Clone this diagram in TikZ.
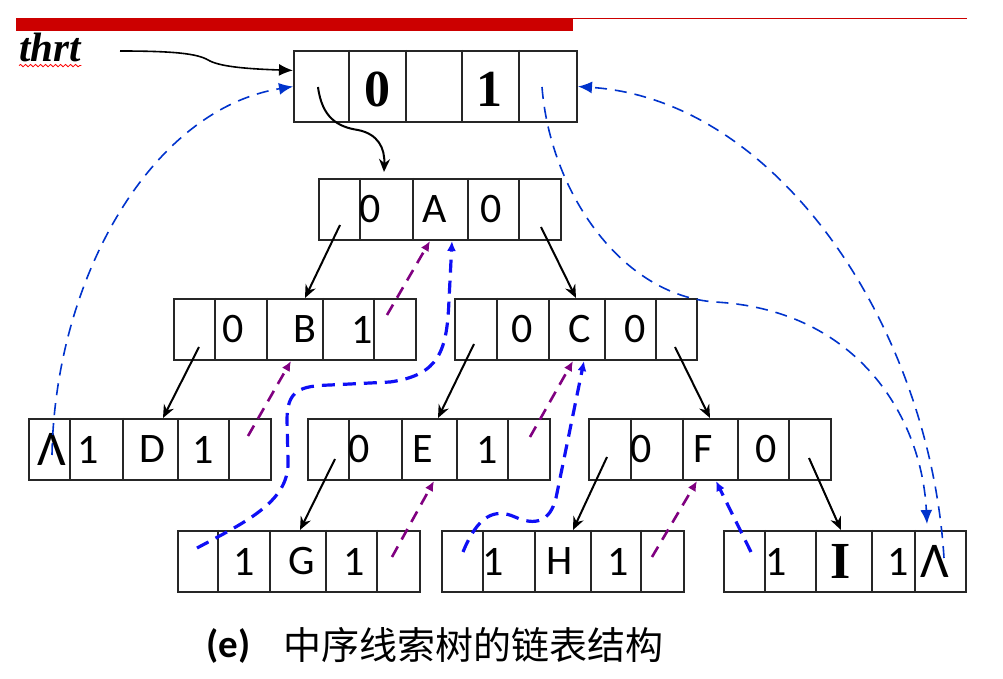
\documentclass[tikz,border=0pt]{standalone}
\usepackage{fontspec}
\setmainfont{Liberation Serif}
\setsansfont{Carlito}
\newfontfamily\cjk{Noto Sans CJK SC}
\usepackage{tikz}
\usetikzlibrary{arrows.meta,calc,decorations.pathmorphing}

\definecolor{hdrred}{RGB}{204,0,0}
\definecolor{headblue}{RGB}{0,51,204}
\definecolor{thrblue}{RGB}{15,15,245}
\definecolor{thrpurple}{RGB}{128,0,128}

\begin{document}
\begin{tikzpicture}[
  x=0.5pt, y=-0.5pt,
  record/.style={draw=black!85, line width=1pt, anchor=north west, inner sep=0pt,
                 minimum width=121pt, minimum height=30.5pt},
  divider/.style={draw=black!85, line width=1pt},
  val/.style={inner sep=0pt, font=\sffamily\fontsize{21}{24}\selectfont},
  nilval/.style={inner sep=0pt, font=\sffamily\fontsize{25}{28}\selectfont},
  boldval/.style={inner sep=0pt, font=\rmfamily\bfseries\fontsize{26}{28}\selectfont},
  tree/.style={-{Stealth[length=6.5pt,width=5.5pt]}, draw, line width=1pt},
  lthread/.style={-{Latex[length=5pt,width=4.5pt]}, draw=thrpurple, line width=1.3pt,
                  dash pattern=on 6pt off 4pt},
  rthread/.style={-{Latex[length=5pt,width=4.5pt]}, draw=thrblue, line width=1.6pt,
                  dash pattern=on 6.5pt off 4pt},
  headlink/.style={-{Latex[length=7pt,width=6pt]}, draw=headblue, line width=0.8pt,
                   dash pattern=on 6pt off 4pt}
]
\useasboundingbox (0,0) rectangle (1003,679);

% --- Header ---
\fill[hdrred] (16,18) rectangle (573,31);
\draw[hdrred, line width=0.5pt] (573,18.5) -- (967,18.5);
\node[anchor=base west, inner sep=0pt,
      font=\rmfamily\bfseries\itshape\fontsize{20.5}{23}\selectfont] (thrt) at (19,62) {thrt};
\draw[red, line width=0.4pt, decorate, decoration={snake, amplitude=0.6pt, segment length=2.5pt}]
  ([yshift=-1.8pt]thrt.base west) -- ([yshift=-1.8pt]thrt.base east);

% --- Records ---
\node[record, minimum width=141.5pt, minimum height=35.5pt] (head) at (293,50) {};
\node[record] (A) at (318,178) {};
\node[record] (B) at (173,298) {};
\node[record] (C) at (454,298) {};
\node[record] (D) at (28,418) {};
\node[record] (E) at (307,418) {};
\node[record] (F) at (588,418) {};
\node[record] (G) at (177,530) {};
\node[record] (H) at (441,530) {};
\node[record] (I) at (723,530) {};

% --- Cell dividers ---
\foreach \x in {349,406,462,519} \draw[divider] (\x,0 |- head.north) -- (\x,0 |- head.south);
\foreach \x in {360,413,468,519} \draw[divider] (\x,0 |- A.north) -- (\x,0 |- A.south);
\foreach \x in {215,267,323,374} \draw[divider] (\x,0 |- B.north) -- (\x,0 |- B.south);
\foreach \x in {497,549,605,656} \draw[divider] (\x,0 |- C.north) -- (\x,0 |- C.south);
\foreach \x in {70,123,178,229}  \draw[divider] (\x,0 |- D.north) -- (\x,0 |- D.south);
\foreach \x in {349,402,457,508} \draw[divider] (\x,0 |- E.north) -- (\x,0 |- E.south);
\foreach \x in {631,683,738,789} \draw[divider] (\x,0 |- F.north) -- (\x,0 |- F.south);
\foreach \x in {218,270,326,377} \draw[divider] (\x,0 |- G.north) -- (\x,0 |- G.south);
\foreach \x in {483,535,591,641} \draw[divider] (\x,0 |- H.north) -- (\x,0 |- H.south);
\foreach \x in {765,816,872,915} \draw[divider] (\x,0 |- I.north) -- (\x,0 |- I.south);

% --- Cell values ---
\node[boldval] (head-1) at (377,89) {0};
\node[boldval] (head-2) at (489,89) {1};
\foreach \x/\lbl [count=\i] in {370/0,435/A,491/0} \node[val] (A-\i) at (\x,0 |- A) {\lbl};
\foreach \x/\lbl [count=\i] in {233/0,305/B,362/1} \node[val] (B-\i) at (\x,0 |- B) {\lbl};
\foreach \x/\lbl [count=\i] in {522/0,580/C,635/0} \node[val] (C-\i) at (\x,0 |- C) {\lbl};
\foreach \x/\lbl [count=\i] in {88/1,152/D,203/1} \node[val] (D-\i) at (\x,0 |- D) {\lbl};
\foreach \x/\lbl [count=\i] in {359/0,423/E,487/1} \node[val] (E-\i) at (\x,0 |- E) {\lbl};
\foreach \x/\lbl [count=\i] in {641/0,703/F,766/0} \node[val] (F-\i) at (\x,0 |- F) {\lbl};
\foreach \x/\lbl [count=\i] in {244/1,302/G,354/1} \node[val] (G-\i) at (\x,0 |- G) {\lbl};
\foreach \x/\lbl [count=\i] in {493/1,560/H,618/1} \node[val] (H-\i) at (\x,0 |- H) {\lbl};
\foreach \x/\lbl [count=\i] in {776/1,898/1} \node[val] (I-\i) at (\x,0 |- I) {\lbl};
\node[boldval] (I-0) at (841,0 |- I) {I};
\node[nilval] (D-nil) at (52,0 |- D) {Λ};
\node[nilval] (I-nil) at (935,0 |- I) {Λ};

% --- Pointer origins ---
\coordinate (thrt-tail) at (120,51);
\coordinate (head-lp) at (318,87);  \coordinate (head-rp) at (542,87);
\coordinate (A-lp) at (340,225);    \coordinate (A-rp) at (541,227);
\coordinate (B-lp) at (199,347);    \coordinate (B-rp) at (387,315);
\coordinate (C-lp) at (474,344);    \coordinate (C-rp) at (675,347);
\coordinate (D-lp) at (52,455);     \coordinate (D-rp) at (248,436);
\coordinate (E-lp) at (335,459);    \coordinate (E-rp) at (530,437);
\coordinate (F-lp) at (607,457);    \coordinate (F-rp) at (809,458);
\coordinate (G-lp) at (197,548);    \coordinate (G-rp) at (392,557);
\coordinate (H-lp) at (463,552);    \coordinate (H-rp) at (652,557);
\coordinate (I-lp) at (751,552);    \coordinate (I-rp) at (944,558);

% --- Child links ---
\draw[-{Latex[length=7pt,width=6pt]}, line width=0.8pt] (thrt-tail)
  .. controls (185,51) and (200,55) .. (210,61)
  .. controls (222,67) and (250,69) .. ($(head.north west)!0.28!(head.south west)$);
\draw[tree] (head-lp) .. controls (322,118) and (338,127) .. (358,130)
  .. controls (378,134) and (385,148) .. ($(384,0 |- A.north)+(0,-6)$);
\path
  (A-lp) edge[tree] (305,0 |- B.north)
  (A-rp) edge[tree] (576,0 |- C.north)
  (B-lp) edge[tree] (163,0 |- D.north)
  (C-lp) edge[tree] (438,0 |- E.north)
  (C-rp) edge[tree] (710,0 |- F.north)
  (E-lp) edge[tree] (300,0 |- G.north)
  (F-lp) edge[tree] (573,0 |- H.north)
  (F-rp) edge[tree] (841,0 |- I.north);

% --- Threads ---
\path
  (D-rp) edge[lthread] (291,0 |- B.south)
  (B-rp) edge[lthread] (430,0 |- A.south)
  (E-rp) edge[lthread] (573,0 |- C.south)
  (G-rp) edge[lthread] (434,0 |- E.south)
  (H-rp) edge[lthread] (697,0 |- F.south);
\draw[rthread] (G-lp) .. controls (250,520) and (290,500) .. (288,460) -- (287,420)
  .. controls (287,390) and (300,386) .. (330,385) -- (390,382)
  .. controls (440,375) and (447,350) .. (449,300) -- (452,0 |- A.south);
\draw[rthread] (H-lp) .. controls (478,515) and (495,508) .. (515,517)
  .. controls (535,526) and (550,522) .. (556,498) -- (584,0 |- C.south);
\draw[rthread] (I-lp) -- (716,0 |- F.south);
\draw[headlink] (D-lp) .. controls (55,280) and (150,110) .. (head.west);
\draw[headlink] (I-rp) .. controls (930,330) and (780,100) .. (head.east);
\draw[headlink] (head-rp) .. controls (550,190) and (620,295) .. (715,302)
  .. controls (860,310) and (922,420) .. ($(927,0 |- I.north)+(0,-6)$);

% --- Caption ---
\node[anchor=east, inner sep=0pt, font=\sffamily\bfseries\fontsize{19.5}{22}\selectfont] (tag) at (251,646) {(e)};
\node[anchor=west, inner sep=0pt, font=\cjk\fontsize{19}{22}\selectfont] (caption) at (283,645) {中序线索树的链表结构};

\end{tikzpicture}
\end{document}
